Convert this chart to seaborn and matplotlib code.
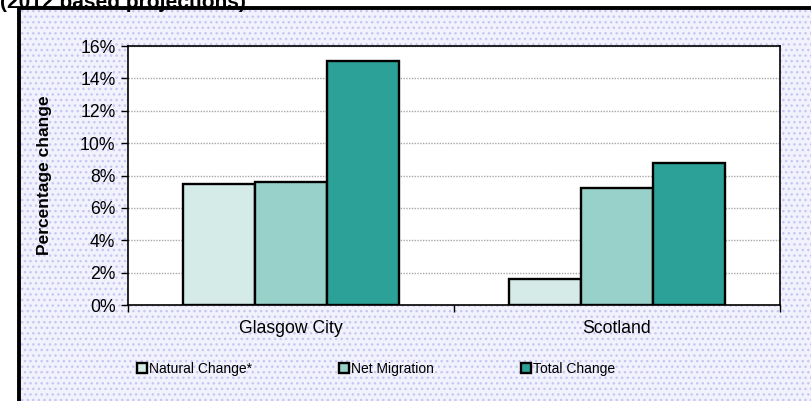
import pandas as pd
import matplotlib.pyplot as plt
import matplotlib.patches as mpatches
from matplotlib.ticker import FixedLocator, PercentFormatter
import seaborn as sns

# data
areas = ["Glasgow City", "Scotland"]
components = ["Natural Change*", "Net Migration", "Total Change"]
natural_change = [7.5, 1.6]
net_migration = [7.6, 7.2]
total_change = [15.1, 8.8]
colours = ["#d5ebe8", "#98d1c9", "#2ca197"]

df = pd.DataFrame({
    "area": areas * 3,
    "component": [c for c in components for _ in areas],
    "pct": natural_change + net_migration + total_change,
})

sns.set_style("white")
plt.rcParams["font.family"] = ["Liberation Sans", "DejaVu Sans"]
plt.rcParams["text.color"] = "black"
plt.rcParams["axes.labelcolor"] = "black"
plt.rcParams["xtick.color"] = "black"
plt.rcParams["ytick.color"] = "black"

W, H = 812, 401
fig = plt.figure(figsize=(W / 100, H / 100), dpi=100, facecolor="white")

# dotted lavender chart-area background with heavy black frame
bg = mpatches.Rectangle((19 / W, -0.05), 1.1, 1 - 7.5 / H + 0.05,
                        transform=fig.transFigure, facecolor="#f2f2fd",
                        edgecolor="#c6c6f2", hatch="...", lw=0, zorder=0)
fig.patches.append(bg)
frame = mpatches.Rectangle((19 / W, -0.05), 1.1, 1 - 7.5 / H + 0.05,
                           transform=fig.transFigure, fill=False,
                           edgecolor="black", lw=2.8, zorder=1)
fig.patches.append(frame)

fig.text(0.0, 1 - 2 / H, "(2012 based projections)", fontsize=15,
         fontweight="bold", ha="left", va="center")

ax = fig.add_axes([128 / W, 1 - 305 / H, (780 - 128) / W, (305 - 46) / H])
ax.set_zorder(5)
ax.set_facecolor("white")

sns.barplot(data=df, x="area", y="pct", hue="component", order=areas,
            hue_order=components, palette=colours, saturation=1, width=0.66,
            edgecolor="black", linewidth=1.7, ax=ax, zorder=3)

ax.set_ylim(0, 16)
ax.set_xlim(-0.5, 1.5)
ax.set_yticks(range(0, 17, 2))
ax.yaxis.set_major_formatter(PercentFormatter(decimals=0))
ax.grid(axis="y", color="#a8a8a8", linestyle=(0, (1, 1)), lw=1, zorder=0)
ax.set_axisbelow(True)

for s in ax.spines.values():
    s.set_color("black")
    s.set_linewidth(1.2)
    s.set_visible(True)

ax.tick_params(axis="y", direction="out", length=5, width=1, color="black",
               labelsize=12.7, pad=4, left=True)
ax.tick_params(axis="x", which="major", length=0, labelsize=12.7, pad=11)
ax.xaxis.set_minor_locator(FixedLocator([-0.5, 0.5, 1.5]))
ax.tick_params(axis="x", which="minor", direction="out", length=5, width=1,
               color="black", bottom=True)

ax.set_xlabel("")
ax.set_ylabel("Percentage change", fontsize=12.5, fontweight="bold")
ax.yaxis.set_label_coords((52 - 128) / (780 - 128), 0.5)

handles, labels = ax.get_legend_handles_labels()
ax.get_legend().remove()
fig.legend(handles, labels, loc="center left", ncol=3,
           bbox_to_anchor=(137 / W, 1 - 369 / H), frameon=False, fontsize=10,
           handlelength=0.7, handleheight=0.7, handletextpad=0.15,
           columnspacing=6.3, borderpad=0, borderaxespad=0)

fig.savefig("out.png", dpi=100, facecolor="white")
